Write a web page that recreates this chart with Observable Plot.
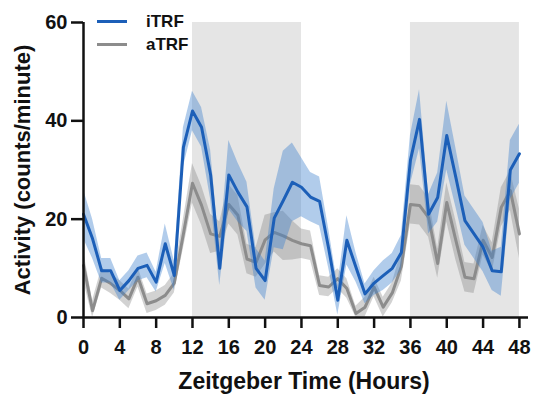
<!DOCTYPE html>
<html>
<head>
<meta charset="utf-8">
<script src="https://cdn.jsdelivr.net/npm/d3@7"></script>
<script src="https://cdn.jsdelivr.net/npm/@observablehq/plot@0.6"></script>
<style>
  html, body { margin: 0; padding: 0; background: #fff; }
  #wrap { position: relative; width: 535px; height: 400px; font-family: "Liberation Sans", Arial, sans-serif; }
  #legend { position: absolute; left: 97px; top: 10px; font-weight: bold; font-size: 17px; color: #111; }
  #legend .row { display: flex; align-items: center; height: 23px; }
  #legend .sw { width: 30px; height: 3px; margin-right: 19px; }
</style>
</head>
<body>
<div id="wrap"><div id="chart"></div>
<div id="legend"></div></div>
<script>
const hours = d3.range(0, 49);
const seriesNames = ["iTRF", "aTRF"];
const iTRF = [21, 16, 9.5, 9.5, 5.5, 7.5, 10, 10.6, 7.2, 15, 8.5, 34.6, 42, 38.7, 29, 10, 29, 25.5, 22.5, 10, 7.5, 20.2, 23.8, 27.5, 26.5, 24.5, 23.6, 14, 3.5, 15.7, 10.2, 4.8, 7, 8.5, 10, 13.2, 32, 40.3, 21, 24.4, 37, 28.5, 19.7, 17, 14.3, 9.5, 9.3, 30, 33.3];
const iTRF_sem = [5, 4, 2.5, 2.5, 2, 2, 2.5, 2.5, 2, 4, 3, 4, 4, 4, 5, 3.5, 7, 6, 5, 4, 4, 6, 10, 8, 6, 5, 5, 4, 3, 5, 3, 2, 2.5, 3, 3, 3.5, 5, 6, 4, 5, 7, 6, 5, 5, 5, 4, 5, 6, 6];
const aTRF = [10.6, 1.4, 8, 6.9, 5.5, 3.8, 8.2, 2.8, 3.4, 4.5, 7, 17, 27.3, 22.8, 17, 16.5, 23, 20.8, 11.9, 11.2, 15.8, 17.3, 16.6, 15.7, 15, 14.6, 6.5, 6.2, 7.9, 5.9, 0.8, 2.1, 6.2, 2.1, 5, 10.4, 23, 22.8, 20.3, 11, 23.4, 15.7, 8.2, 7.9, 15.7, 12.2, 22.4, 25.8, 17];
const aTRF_sem = [3, 2, 2, 2, 2, 2, 2, 2, 2, 2, 2, 3, 4, 4, 4, 3, 4, 4, 3, 3, 5, 4, 5, 4, 3, 3, 2, 2, 2, 2, 1.5, 2, 2, 2, 2, 3, 4, 4, 4, 3, 4, 4, 3, 3, 3, 3, 4, 4, 5];
const darkStarts = [12, 36];
const darkEnds = [24, 48];
const xTicks = d3.range(0, 49, 4);
const yTicks = [0, 20, 40, 60];
const colors = {iTRF: "#1c5fb8", aTRF: "#8c8c8c"};
const bandColors = {iTRF: "rgba(60,128,205,0.40)", aTRF: "rgba(130,130,130,0.36)"};

function build(name, vals, sem) {
  return hours.map((h, i) => ({hour: h, series: name, v: vals[i], lo: Math.max(0, vals[i] - sem[i]), hi: vals[i] + sem[i]}));
}
const dI = build("iTRF", iTRF, iTRF_sem);
const dA = build("aTRF", aTRF, aTRF_sem);
const dark = darkStarts.map((s, i) => ({x1: s, x2: darkEnds[i]}));

const font = "Liberation Sans, Arial, sans-serif";
const chart = Plot.plot({
  width: 535,
  height: 400,
  marginLeft: 83,
  marginRight: 7,
  marginTop: 22,
  marginBottom: 83,
  style: {fontFamily: font, fontWeight: "bold", fontSize: "20px", color: "#111", background: "#fff", overflow: "visible"},
  x: {domain: [0, 49]},
  y: {domain: [0, 60]},
  marks: [
    Plot.rectY(dark, {x1: "x1", x2: "x2", y1: 0, y2: 60, fill: "#e5e5e5"}),
    Plot.areaY(dA, {x: "hour", y1: "lo", y2: "hi", fill: bandColors.aTRF}),
    Plot.line(dA, {x: "hour", y: "v", stroke: colors.aTRF, strokeWidth: 3}),
    Plot.areaY(dI, {x: "hour", y1: "lo", y2: "hi", fill: bandColors.iTRF}),
    Plot.line(dI, {x: "hour", y: "v", stroke: colors.iTRF, strokeWidth: 3}),
    Plot.ruleY([0], {stroke: "#111", strokeWidth: 2.5}),
    Plot.ruleX([0], {y1: 0, y2: 60, stroke: "#111", strokeWidth: 2.5}),
    Plot.axisX({ticks: xTicks, tickSize: 11, tickPadding: 11, strokeWidth: 2.5, label: null, fontSize: 20}),
    Plot.axisY({ticks: yTicks, tickSize: 12, tickPadding: 4, strokeWidth: 2.5, label: null, fontSize: 20}),
    Plot.text(["Zeitgeber Time (Hours)"], {frameAnchor: "bottom", textAnchor: "middle", lineAnchor: "bottom", dy: 71, dx: -2, fontSize: 23, fontWeight: "bold", fill: "#111"}),
    Plot.text(["Activity (counts/minute)"], {frameAnchor: "left", textAnchor: "middle", lineAnchor: "middle", rotate: -90, dx: -61, fontSize: 22, fontWeight: "bold", fill: "#111"})
  ]
});
document.getElementById("chart").appendChild(chart);

const legend = document.getElementById("legend");
seriesNames.forEach(n => {
  const row = document.createElement("div");
  row.className = "row";
  const sw = document.createElement("div");
  sw.className = "sw";
  sw.style.background = colors[n];
  const t = document.createElement("span");
  t.textContent = n;
  row.appendChild(sw);
  row.appendChild(t);
  legend.appendChild(row);
});
</script>
</body>
</html>
